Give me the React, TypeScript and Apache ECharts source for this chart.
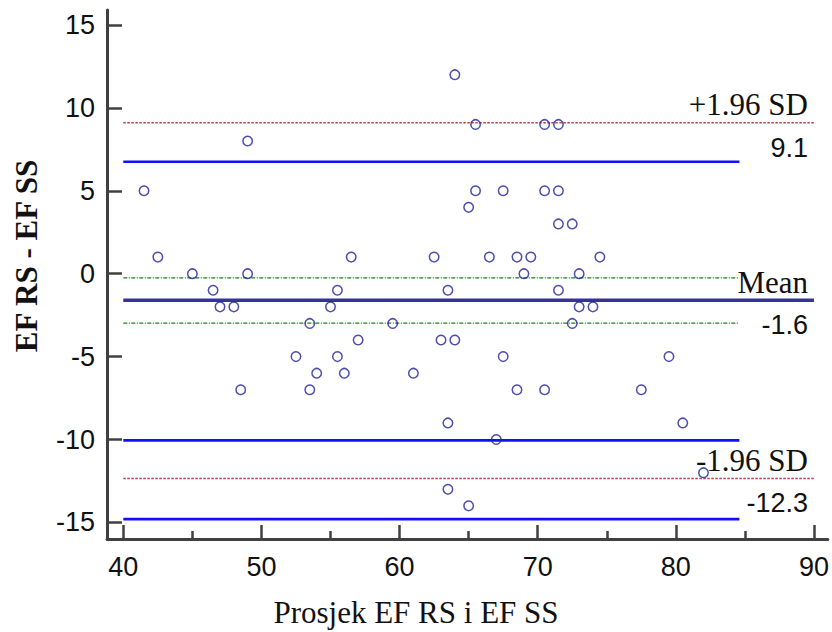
import React, { useEffect, useRef } from 'react';
import * as echarts from 'echarts';

// Bland-Altman data: mean of the two methods (x) and difference (y)
const xValues = [
  41.5, 42.5, 45, 46.5, 47, 48, 48.5, 49, 49,
  52.5, 53.5, 53.5, 54, 55, 55.5, 55.5, 56, 56.5, 57,
  59.5, 61, 62.5, 63, 63.5, 63.5, 63.5, 64, 64,
  65, 65, 65.5, 65.5, 66.5, 67, 67.5, 67.5,
  68.5, 69.5, 69, 68.5, 70.5, 70.5, 70.5, 71.5, 71.5, 71.5, 72.5, 71.5,
  73, 73, 72.5, 74, 74.5, 77.5, 79.5, 80.5, 82,
];
const yValues = [
  5, 1, 0, -1, -2, -2, -7, 8, 0,
  -5, -3, -7, -6, -2, -1, -5, -6, 1, -4,
  -3, -6, 1, -4, -1, -9, -13, -4, 12,
  4, -14, 9, 5, 1, -10, 5, -5,
  1, 1, 0, -7, 9, 5, -7, 9, 5, 3, 3, -1,
  0, -2, -3, -2, 1, -7, -5, -9, -12,
];

// Limits of agreement
const limitNames = ['+1.96 SD', 'Mean', '-1.96 SD'];
const limitValues = [9.1, -1.6, -12.35];
const limitLabels = ['9.1', '-1.6', '-12.3'];
const limitSpan = [40, 90];

// Confidence interval lines
const limitCiValues = [6.75, -10.05, -14.8];
const meanCiValues = [-0.25, -2.98];
const ciSpan = [40, 84.6];

// Axes
const xMin = 38.82;
const xMax = 91;
const yMin = -16;
const yMax = 15.9;
const xMajorTicks = [40, 50, 60, 70, 80, 90];
const xMinorTicks = [45, 55, 65, 75, 85];
const yTicks = [-15, -10, -5, 0, 5, 10, 15];

const xTitle = 'Prosjek EF RS i EF SS';
const yTitle = 'EF RS - EF SS';

const SERIF = '"Liberation Serif", "Times New Roman", Times, serif';
const SANS = '"Liberation Sans", Arial, Helvetica, sans-serif';
const AXIS_COLOR = '#404040';

export default function App() {
  const ref = useRef<HTMLDivElement>(null);

  useEffect(() => {
    if (!ref.current) return;
    const chart = echarts.init(ref.current, null, { renderer: 'svg' });

    const hLine = (v: number, span: number[], lineStyle: any, z = 2) => ({
      type: 'line',
      data: [[span[0], v], [span[1], v]],
      symbol: 'none',
      silent: true,
      z,
      lineStyle,
    });

    const redDotted = { color: '#b04848', width: 1.5, type: [2.5, 1.5] };
    const blueSolid = { color: '#1010ff', width: 2.6, type: 'solid' };
    const greenDashDot = { color: '#1a801a', width: 1.2, type: [4, 1.5, 1, 1.5] };
    const navySolid = { color: '#333399', width: 3.4, type: 'solid' };

    const series: any[] = [];
    limitValues.forEach((v, i) => {
      series.push(hLine(v, limitSpan, i === 1 ? navySolid : redDotted));
    });
    limitCiValues.forEach((v) => series.push(hLine(v, ciSpan, blueSolid)));
    meanCiValues.forEach((v) => series.push(hLine(v, ciSpan, greenDashDot)));

    series.push({
      type: 'scatter',
      data: xValues.map((x, i) => [x, yValues[i]]),
      symbol: 'circle',
      symbolSize: 9.5,
      z: 5,
      itemStyle: {
        color: 'rgba(255,255,255,0)',
        borderColor: '#20209a',
        borderWidth: 1.5,
      },
    });

    const axisLine = { show: true, onZero: false, lineStyle: { color: AXIS_COLOR, width: 3 } };

    chart.setOption({
      animation: false,
      backgroundColor: '#ffffff',
      grid: { left: 107, right: 4, top: 10, bottom: 93, containLabel: false },
      xAxis: [
        {
          type: 'value',
          min: xMin,
          max: xMax,
          axisLine,
          splitLine: { show: false },
          axisTick: {
            show: true,
            inside: true,
            length: 14,
            customValues: xMajorTicks,
            lineStyle: { color: AXIS_COLOR, width: 2.5 },
          },
          axisLabel: {
            customValues: xMajorTicks,
            margin: 14,
            color: '#111',
            fontFamily: SANS,
            fontSize: 27,
          },
        },
        {
          type: 'value',
          min: xMin,
          max: xMax,
          position: 'bottom',
          axisLine: { show: false, onZero: false },
          splitLine: { show: false },
          axisTick: {
            show: true,
            inside: true,
            length: 8,
            customValues: xMinorTicks,
            lineStyle: { color: AXIS_COLOR, width: 2.5 },
          },
          axisLabel: { show: false },
        },
      ],
      yAxis: {
        type: 'value',
        min: yMin,
        max: yMax,
        axisLine,
        splitLine: { show: false },
        axisTick: {
          show: true,
          inside: true,
          length: 15,
          customValues: yTicks,
          lineStyle: { color: AXIS_COLOR, width: 2.5 },
        },
        axisLabel: {
          customValues: yTicks,
          margin: 12,
          color: '#111',
          fontFamily: SANS,
          fontSize: 27,
        },
      },
      series,
    });

    const graphics: any[] = [];
    limitValues.forEach((v, i) => {
      const p = chart.convertToPixel({ gridIndex: 0 }, [limitSpan[1], v]) as number[];
      const right = p[0] - 6;
      graphics.push({
        type: 'text',
        x: right,
        y: p[1] - 18,
        style: {
          text: limitNames[i],
          font: `31px ${SERIF}`,
          fill: '#111',
          align: 'right',
          verticalAlign: 'middle',
        },
        z: 10,
      });
      graphics.push({
        type: 'text',
        x: right,
        y: p[1] + 25,
        style: {
          text: limitLabels[i],
          font: `27px ${SANS}`,
          fill: '#111',
          align: 'right',
          verticalAlign: 'middle',
        },
        z: 10,
      });
    });

    graphics.push({
      type: 'text',
      x: 416,
      y: 612,
      style: {
        text: xTitle,
        font: `31px ${SERIF}`,
        fill: '#111',
        align: 'center',
        verticalAlign: 'middle',
      },
    });
    graphics.push({
      type: 'text',
      x: 26,
      y: 256,
      rotation: Math.PI / 2,
      style: {
        text: yTitle,
        font: `bold 31px ${SERIF}`,
        fill: '#111',
        align: 'center',
        verticalAlign: 'middle',
      },
    });

    chart.setOption({ graphic: graphics });

    return () => {
      chart.dispose();
    };
  }, []);

  return (
    <div
      ref={ref}
      style={{ position: 'absolute', left: 0, top: 0, width: 832, height: 632, background: '#fff' }}
    />
  );
}
